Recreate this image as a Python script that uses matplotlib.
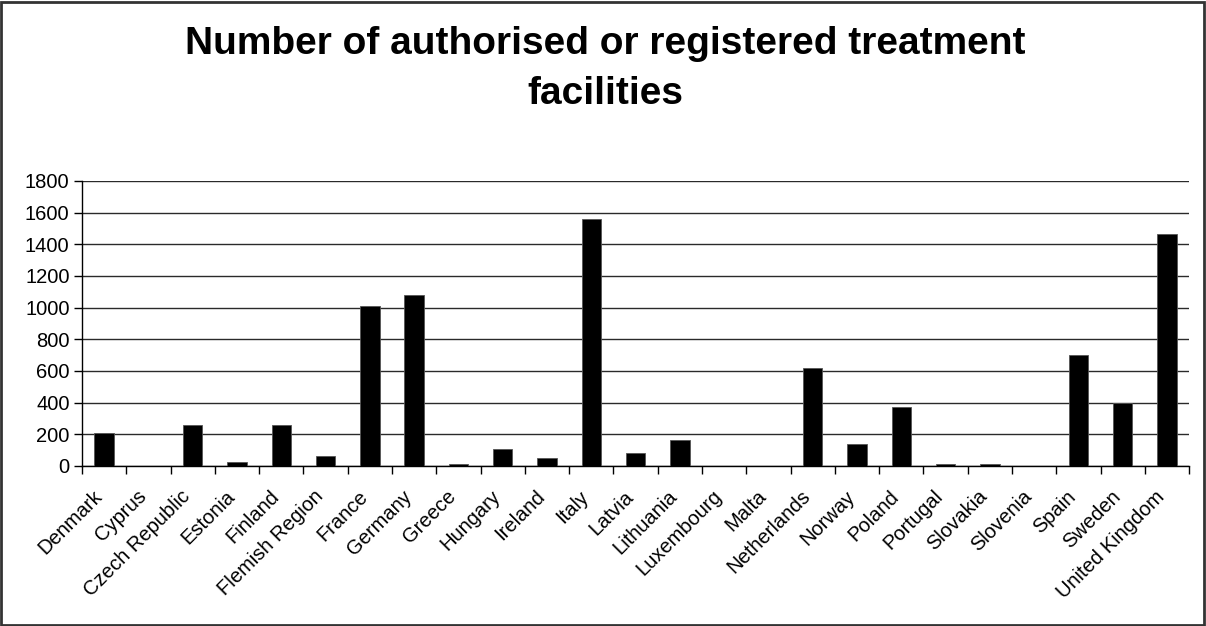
import numpy as np
import matplotlib
matplotlib.use("Agg")
import matplotlib.pyplot as plt
from matplotlib.patches import Rectangle
from matplotlib.transforms import ScaledTranslation

plt.rcParams['font.family'] = ['Liberation Sans', 'DejaVu Sans']

countries = ['Denmark', 'Cyprus', 'Czech Republic', 'Estonia', 'Finland',
             'Flemish Region', 'France', 'Germany', 'Greece', 'Hungary',
             'Ireland', 'Italy', 'Latvia', 'Lithuania', 'Luxembourg', 'Malta',
             'Netherlands', 'Norway', 'Poland', 'Portugal', 'Slovakia',
             'Slovenia', 'Spain', 'Sweden', 'United Kingdom']
facilities = [210, 0, 258, 24, 258, 60, 1013, 1082, 12, 107, 48, 1560, 84,
              164, 0, 0, 617, 141, 375, 12, 12, 0, 699, 398, 1467]

fig = plt.figure(figsize=(12.06, 6.26), dpi=100)
ax = fig.add_axes([0.068, 0.2556, 0.918, 0.4553])

x = np.arange(len(countries))
ax.bar(x, facilities, width=0.44, color='black', edgecolor='#555555',
       linewidth=0.6, zorder=3)

ax.set_xlim(-0.5, len(countries) - 0.5)
ax.set_ylim(0, 1800)
ax.set_yticks(np.arange(0, 1801, 200))
ax.yaxis.grid(True, color='#2a2a2a', linewidth=1.0, zorder=0)

# category labels at centres, tick marks at boundaries (excel style)
ax.set_xticks(x)
ax.set_xticklabels(countries, rotation=45, ha='right', rotation_mode='anchor',
                   fontsize=14.5)
ax.tick_params(axis='x', which='major', length=0, pad=15)
ax.set_xticks(np.arange(-0.5, len(countries)), minor=True)
ax.tick_params(axis='x', which='minor', length=6, width=1, direction='out')
ax.tick_params(axis='y', labelsize=14.5, length=6, width=1, pad=3)

shift = ScaledTranslation(-0.12, 0, fig.dpi_scale_trans)
for lab in ax.get_xticklabels():
    lab.set_transform(lab.get_transform() + shift)

for s in ['top', 'right']:
    ax.spines[s].set_visible(False)
ax.spines['left'].set_linewidth(1)
ax.spines['bottom'].set_linewidth(1)

fig.text(0.502, 0.958, 'Number of authorised or registered treatment\nfacilities',
         ha='center', va='top', fontsize=28, fontweight='bold',
         linespacing=1.5)

fig.patches.append(Rectangle((0.001, 0.002), 0.997, 0.995, transform=fig.transFigure,
                             fill=False, edgecolor='#333333', linewidth=2))

fig.savefig('out.png', dpi=100)
